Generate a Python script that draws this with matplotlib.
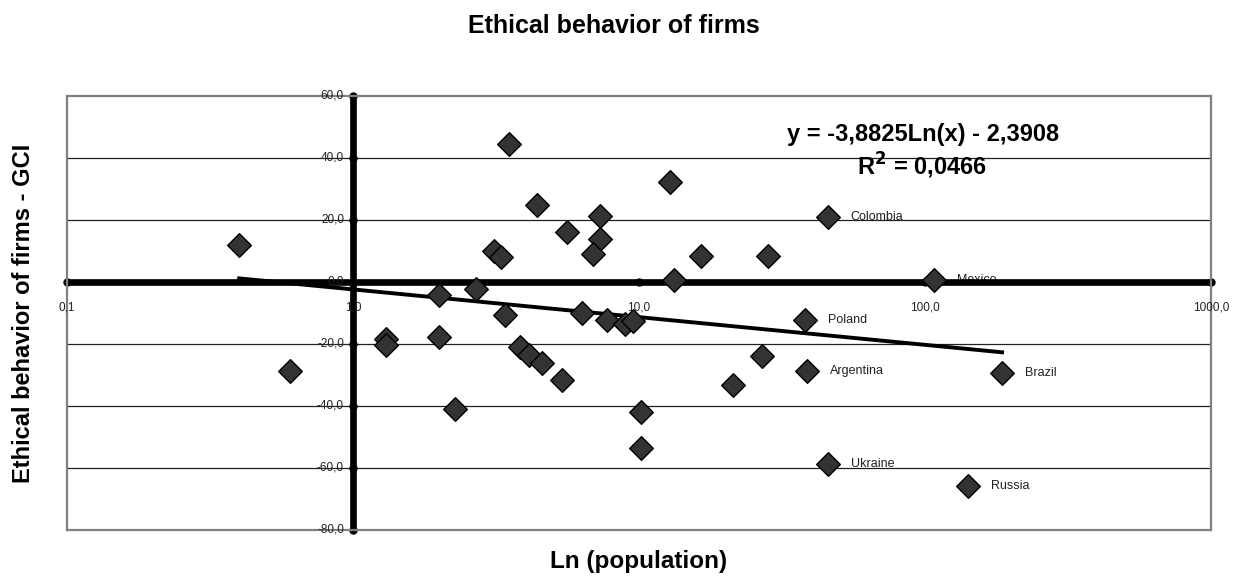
import numpy as np
import matplotlib
matplotlib.use('Agg')
from matplotlib import pyplot as plt

plt.rcParams['font.family'] = ['Liberation Sans', 'DejaVu Sans']

# population (millions) and GCI ethical behaviour score
pop = [0.40, 3.5, 4.4, 5.6, 7.3, 7.3, 6.9, 3.1, 3.3, 2.7, 2.0, 3.4, 6.3, 7.7, 8.9, 9.5,
       0.60, 1.30, 1.30, 2.0, 2.28, 3.85, 4.13, 4.57, 5.37, 10.2, 10.2,
       12.8, 45.7, 16.5, 28.2, 13.3, 107.7, 38.2,
       27.0, 38.8, 21.3, 186.0, 45.7, 141.6]
score = [12.0, 44.6, 25.0, 16.0, 21.2, 14.0, 8.9, 10.0, 8.1, -2.2, -4.3, -10.8, -9.9, -12.4, -13.4, -12.6,
         -28.8, -18.4, -20.3, -17.6, -40.9, -20.9, -23.5, -26.2, -31.6, -41.8, -53.4,
         32.3, 21.0, 8.3, 8.3, 0.5, 0.5, -12.2,
         -23.8, -28.8, -33.1, -29.4, -58.7, -65.9]
names = {28: 'Colombia', 32: 'Mexico', 33: 'Poland', 35: 'Argentina',
         37: 'Brazil', 38: 'Ukraine', 39: 'Russia'}

slope = -3.8825
inter = -2.3908
yticks = [60, 40, 20, 0, -20, -40, -60, -80]
xticks = [0.1, 1, 10, 100, 1000]

W, H = 1243, 582
fig = plt.figure(figsize=(W/100, H/100), dpi=100)
ax = fig.add_axes([67/W, 1-530/H, (1211-67)/W, (530-96)/H])
ax.set_xscale('log')
ax.set_xlim(0.1, 1000)
ax.set_ylim(-80, 60)
ax.set_xticks([])
ax.set_yticks([])
ax.minorticks_off()
for s in ax.spines.values():
    s.set_color('#808080')
    s.set_linewidth(1.6)

for v in [40, 20, -20, -40, -60]:
    ax.axhline(v, color='#202020', lw=0.9, zorder=1)

# thick axes crossing at (1, 0)
ax.plot([0.1, 1000], [0, 0], color='black', lw=4.8, zorder=2, solid_capstyle='butt')
ax.plot([1, 1], [-80, 60], color='black', lw=4.8, zorder=2, solid_capstyle='butt')
ax.plot(xticks, [0]*len(xticks), 'o', color='black', ms=5, zorder=2, clip_on=False)
ax.plot([1]*len(yticks), yticks, 'o', color='black', ms=5, zorder=2, clip_on=False)

for v in yticks:
    ax.annotate(('%.1f' % v).replace('.', ','), xy=(1, v), xytext=(-6.5, 0),
                textcoords='offset points', ha='right', va='center', fontsize=8.5,
                color='#222222')
for v in xticks:
    ax.annotate(('%.1f' % v).replace('.', ','), xy=(v, 0), xytext=(0, -18.5),
                textcoords='offset points', ha='center', va='center', fontsize=8.5,
                color='#222222', annotation_clip=False)

# log trend line
xs = np.linspace(min(pop), max(pop), 400)
ax.plot(xs, slope*np.log(xs) + inter, color='black', lw=2.8, zorder=3)

ax.scatter(pop, score, marker='D', s=145, color='#333333', edgecolors='black',
           linewidths=1.0, zorder=4)
for i, n in names.items():
    ax.annotate(n, xy=(pop[i], score[i]), xytext=(16.5, 0), textcoords='offset points',
                ha='left', va='center', fontsize=9, color='#222222', zorder=1.5)

fig.text(923/W, 1-141/H, 'y = -3,8825Ln(x) - 2,3908', ha='center', va='baseline',
         fontsize=17, fontweight='bold')
fig.text(922/W, 1-175/H, 'R$^{\\mathbf{2}}$ = 0,0466', ha='center', va='baseline',
         fontsize=17, fontweight='bold')

fig.text(614/W, 1-33/H, 'Ethical behavior of firms', ha='center', va='baseline',
         fontsize=18, fontweight='bold')
fig.text(24/W, 1-313/H, 'Ethical behavior of firms - GCI', rotation=90,
         ha='center', va='center', fontsize=17, fontweight='bold')
fig.text(639/W, 1-568/H, 'Ln (population)', ha='center', va='baseline',
         fontsize=17.5, fontweight='bold')

fig.savefig('out.png', dpi=100)
